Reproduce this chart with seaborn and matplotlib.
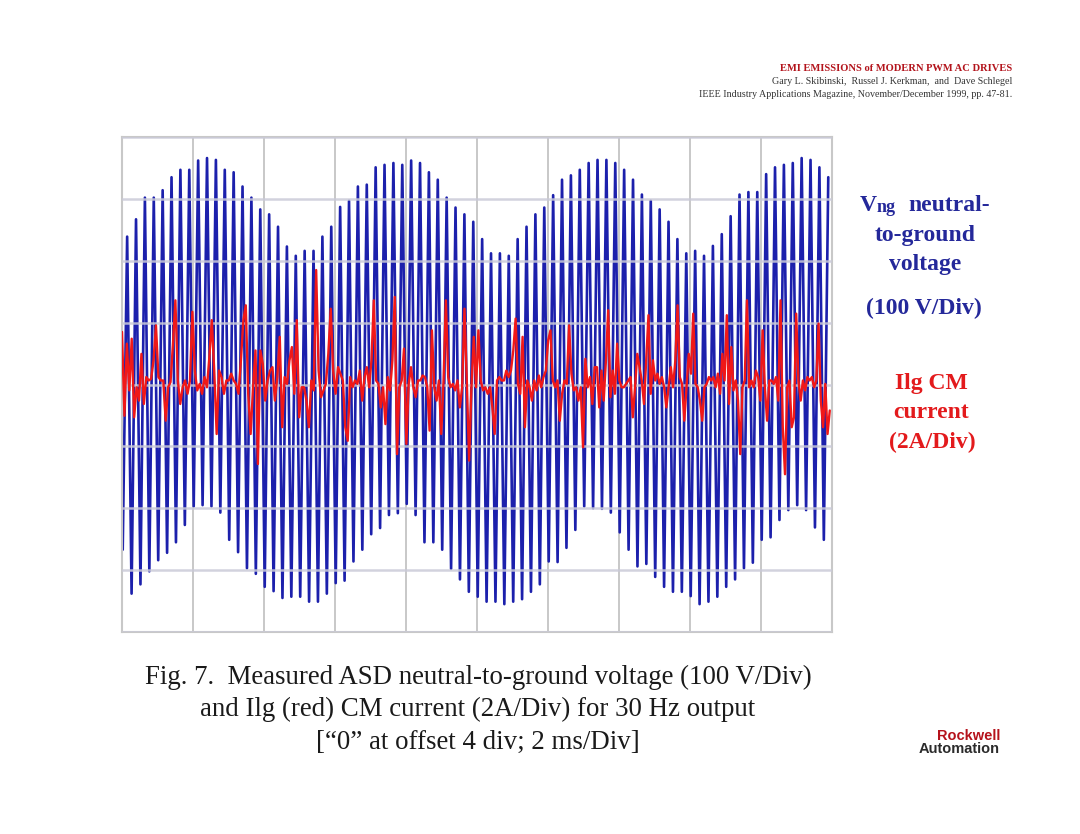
import numpy as np
import pandas as pd
import matplotlib
matplotlib.use("Agg")
import matplotlib.pyplot as plt
import seaborn as sns

# ---------------- data ----------------
# Vng: positive peak and negative trough of each 4 kHz PWM carrier cycle, volts (100 V/div)
blue_peaks_v = [239, 267, 302, 302, 314, 335, 347, 347, 362, 366,
                363, 347, 343, 320, 302, 283, 275, 255, 223, 208,
                216, 216, 239, 255, 287, 297, 320, 323, 351, 355,
                358, 355, 362, 358, 343, 331, 302, 286, 275, 263,
                235, 212, 212, 208, 235, 255, 275, 286, 306, 331,
                338, 347, 358, 363, 363, 358, 347, 331, 307, 297,
                283, 263, 235, 212, 216, 208, 224, 243, 272, 307,
                311, 311, 340, 351, 355, 358, 366, 363, 351, 335]
blue_troughs_v = [-267, -338, -323, -302, -284, -272, -255, -227, -197, -195,
                  -197, -207, -251, -271, -297, -306, -327, -334, -345, -343,
                  -343, -351, -351, -338, -321, -317, -286, -267, -242, -232,
                  -211, -208, -193, -211, -255, -255, -267, -298, -315, -335,
                  -343, -351, -351, -355, -351, -347, -335, -323, -286, -287,
                  -264, -235, -197, -200, -201, -207, -239, -267, -294, -290,
                  -311, -327, -335, -335, -342, -355, -351, -343, -327, -315,
                  -297, -288, -251, -247, -219, -203, -195, -203, -231, -251]
carrier_period_ms = 0.25
first_trough_ms = 0.02

# Ilg common-mode current samples, amps (2 A/div), three consecutive time segments
red_seg_bounds_ms = [0.0, 6.70, 13.38, 20.0]
red_a = [1.70, -1.01, 1.32, -0.19, 1.48, -1.06, -0.09, -0.52, 0.99, -0.63,
         0.24, 0.13, 0.18, 0.78, 1.91, 0.24, 0.13, 0.13, -1.17, -0.09,
         0.08, 1.32, 2.72, 0.13, -0.63, -0.09, 0.13, -0.30, 0.13, 2.35,
         0.45, -0.19, 0.02, -0.30, 0.24, -0.09, 0.89, 2.08, 0.45, -1.60,
         0.45, 0.24, -0.30, 0.13, 0.13, 0.35, 0.13, 0.02, -0.30, 0.78,
         2.08, 2.56, -0.30, -1.60, -0.09, 1.10, -2.57, 1.10, 0.67, -0.52,
         0.13, 0.45, 0.56, -0.52, 0.24, 1.54, -1.38, 0.24, 0.02, 0.78,
         1.21, -0.30, 2.08, -1.06, -0.09, -0.09, -0.52, -1.38, 0.13, -0.19,
         3.70, 0.45, -0.41, -0.19, 0.02, 0.99, 2.45, 0.45, -0.30, 0.56,
         0.35, 0.13, -1.38, -1.82, 0.24, -0.09, 0.13, 0.02]
red_b = [0.45, -0.52, 0.24, 0.56, -0.09, 0.78, 2.72, 0.13, 0.02, -0.74,
         -0.09, -1.28, 0.24, -0.19, 0.78, 2.83, -2.25, -0.09, 0.13, 1.16,
         -1.92, 0.02, 0.56, -0.09, -0.41, 0.13, 0.13, 0.29, 0.24, -0.09,
         -1.49, 1.75, -0.09, -0.52, 0.13, -1.60, 0.13, 2.72, 0.24, -0.09,
         0.02, -0.19, 0.13, -0.74, -0.09, 2.45, 0.13, -2.46, -0.09, 1.54,
         -0.09, 1.75, 0.13, -0.19, -0.09, -0.30, -0.09, -0.74, -1.60, 0.13,
         0.24, 0.13, 0.13, 0.45, 0.24, 0.45, 1.10, 2.13, 0.02, -0.30,
         1.54, -1.38, 0.13, -0.09, -0.52, 0.13, -0.19, 0.29, -0.09, 0.24,
         0.45, 1.43, 1.75, 0.13, -0.09, 0.13, -1.17, -0.30, 0.13, 0.02,
         1.91, 0.35, -0.19, -0.09, -0.52, -0.09, -2.03, 0.83, -0.09, 0.24,
         -0.63, 0.56]
red_c = [0.56, -0.74, 0.45, -0.52, 0.78, 2.40, -0.41, 0.45, -0.30, 1.32,
         0.13, -0.09, -0.09, 0.02, 0.13, 0.24, -1.06, -0.09, 0.99, 0.56,
         0.13, -0.63, 0.78, 2.24, -0.30, 0.78, 0.13, 0.35, 0.02, 0.24,
         -0.09, -0.74, -0.09, 0.56, -0.09, 0.78, 2.56, 0.24, 0.02, -1.17,
         -0.09, 0.99, 0.35, 2.29, 0.02, -0.09, -0.52, -1.17, -0.09, 0.02,
         0.24, 0.13, 0.24, -0.09, 0.35, -0.30, 0.99, 0.13, 2.24, -0.63,
         1.21, -0.19, 0.13, -0.52, -2.25, -0.09, 0.13, 2.72, -0.09, 0.13,
         -0.09, 0.45, 0.24, -0.52, 1.75, -0.09, -1.17, 0.13, 0.13, 0.02,
         0.24, -0.52, 2.72, -1.38, -2.90, -0.09, 0.13, -1.38, -1.06, 2.29,
         0.13, -0.52, 0.13, -0.19, 0.24, 0.13, 0.24, -0.09, 0.13, 1.97,
         -0.52, -1.38, 0.02, -1.60, -0.84]

# ---------------- assemble series ----------------
n_cyc = len(blue_peaks_v)
k = np.arange(n_cyc)
t_trough = first_trough_ms + k * carrier_period_ms
t_peak = t_trough + carrier_period_ms / 2
blue_t = np.empty(2 * n_cyc)
blue_v = np.empty(2 * n_cyc)
blue_t[0::2], blue_t[1::2] = t_trough, t_peak
blue_v[0::2], blue_v[1::2] = blue_troughs_v, blue_peaks_v
df_v = pd.DataFrame({"t_ms": blue_t, "Vng": blue_v})

red_t = []
for seg, (a, b) in zip([red_a, red_b, red_c], zip(red_seg_bounds_ms[:-1], red_seg_bounds_ms[1:])):
    red_t.append(np.linspace(a, b, len(seg), endpoint=False))
red_t = np.concatenate(red_t)
df_i = pd.DataFrame({"t_ms": red_t, "Ilg": red_a + red_b + red_c})

# ---------------- figure ----------------
sns.set_style("white")
plt.rcParams["font.family"] = ["Liberation Serif", "DejaVu Serif"]

W, H = 1080, 834
fig = plt.figure(figsize=(W / 100, H / 100), dpi=100)
fig.patch.set_facecolor("white")

L, R, T, B = 122, 832, 137, 632
ax = fig.add_axes([L / W, 1 - B / H, (R - L) / W, (B - T) / H])
ax2 = ax.twinx()

sns.lineplot(data=df_v, x="t_ms", y="Vng", ax=ax, color="#1c20ac", linewidth=1.9,
             sort=False, estimator=None, zorder=2)
sns.lineplot(data=df_i, x="t_ms", y="Ilg", ax=ax2, color="#f01818", linewidth=1.7,
             sort=False, estimator=None, zorder=3)

ax.set_xlim(0, 20)
ax.set_ylim(-400, 400)
ax2.set_ylim(-8, 8)
ax.set_xticks(np.arange(0, 21, 2))
ax.set_yticks(np.arange(-400, 401, 100))
ax2.set_yticks(np.arange(-8, 9, 2))
for a in (ax, ax2):
    a.set_xlabel("")
    a.set_ylabel("")
    a.tick_params(length=0, labelleft=False, labelright=False, labelbottom=False)
ax.grid(True, axis="x", color="#c8c8c8", linewidth=1.4)
ax.set_axisbelow(True)
ax2.grid(True, axis="y", color="#cacad8", linewidth=1.8, alpha=0.85)
ax2.set_axisbelow(False)
for s in ax.spines.values():
    s.set_color("#c8c8c8")
    s.set_linewidth(1.5)
for s in ax2.spines.values():
    s.set_visible(False)


def px(x, y):
    return x / W, 1 - y / H


# header
hdr_red = "#b3141c"
fig.text(*px(1012, 71), "EMI EMISSIONS of MODERN PWM AC DRIVES", ha="right", va="baseline",
         fontsize=7.6, fontweight="bold", color=hdr_red)
fig.text(*px(1012, 84), "Gary L. Skibinski,  Russel J. Kerkman,  and  Dave Schlegel", ha="right",
         va="baseline", fontsize=7.2, color="#333333")
fig.text(*px(1012, 97), "IEEE Industry Applications Magazine, November/December 1999, pp. 47-81.",
         ha="right", va="baseline", fontsize=7.2, color="#333333")

# right-side labels
navy = "#24289a"
fig.text(*px(860, 211), "V", ha="left", va="baseline", fontsize=17, fontweight="bold", color=navy)
fig.text(*px(877, 212), "ng", ha="left", va="baseline", fontsize=13, fontweight="bold", color=navy)
fig.text(*px(990, 211), "neutral-", ha="right", va="baseline", fontsize=17, fontweight="bold", color=navy)
fig.text(*px(925, 241), "to-ground", ha="center", va="baseline", fontsize=17, fontweight="bold", color=navy)
fig.text(*px(925, 270), "voltage", ha="center", va="baseline", fontsize=17, fontweight="bold", color=navy)
fig.text(*px(924, 314), "(100 V/Div)", ha="center", va="baseline", fontsize=17, fontweight="bold", color=navy)

red_lbl = "#e31a1c"
fig.text(*px(931, 389), "Ilg CM", ha="center", va="baseline", fontsize=17, fontweight="bold", color=red_lbl)
fig.text(*px(931, 418), "current", ha="center", va="baseline", fontsize=17, fontweight="bold", color=red_lbl)
fig.text(*px(932, 448), "(2A/Div)", ha="center", va="baseline", fontsize=17, fontweight="bold", color=red_lbl)

# caption
cap_col = "#1a1a1a"
fig.text(*px(478, 684), "Fig. 7.  Measured ASD neutral-to-ground voltage (100 V/Div)", ha="center",
         va="baseline", fontsize=19.4, color=cap_col)
fig.text(*px(478, 716), "and Ilg (red) CM current (2A/Div) for 30 Hz output", ha="center",
         va="baseline", fontsize=19.4, color=cap_col)
fig.text(*px(478, 749), "[\u201c0\u201d at offset 4 div; 2 ms/Div]", ha="center",
         va="baseline", fontsize=19.4, color=cap_col)

# logo
fig.text(*px(1000, 740), "Rockwell", ha="right", va="baseline", fontsize=10.5, fontweight="bold",
         color="#b5121b", family=["Liberation Sans", "DejaVu Sans"])
fig.text(*px(1000, 753), "Automation", ha="right", va="baseline", fontsize=10.5, fontweight="bold",
         color="#2b2b2b", family=["Liberation Sans", "DejaVu Sans"])

fig.savefig("out.png", dpi=100, facecolor="white")
